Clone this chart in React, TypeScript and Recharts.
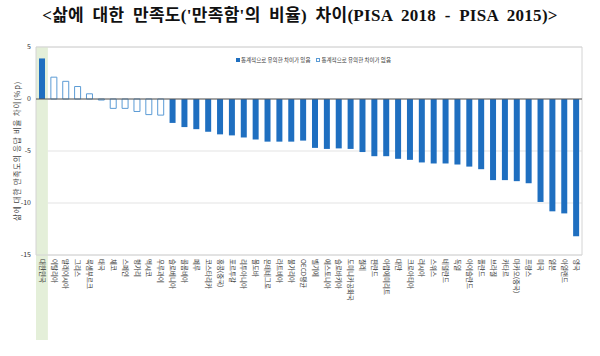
import { BarChart, Bar, Cell, XAxis, YAxis, CartesianGrid, ReferenceLine, ReferenceArea, Legend } from 'recharts';

const countries = [
  '대한민국', '이탈리아', '말레이시아', '그리스', '룩셈부르크', '태국', '체코', '스페인', '헝가리', '멕시코',
  '우루과이', '슬로베니아', '콜롬비아', '페루', '코스타리카', '홍콩(중국)', '포르투갈', '리투아니아', '몰도바', '몬테네그로',
  '라트비아', '불가리아', 'OECD평균', '벨기에', '에스토니아', '슬로바키아', '도미니카공화국', '칠레', '핀란드', '아랍에미리트',
  '대만', '크로아티아', '러시아', '스위스', '네덜란드', '독일', '아이슬란드', '폴란드', '브라질', '카타르',
  '마카오(중국)', '프랑스', '미국', '일본', '아일랜드', '영국',
];

const change = [
  3.9, 2.1, 1.7, 1.2, 0.5, -0.1, -0.9, -0.9, -1.2, -1.5,
  -1.55, -2.3, -2.7, -2.9, -3.15, -3.4, -3.5, -3.7, -3.9, -4.1,
  -4.1, -4.1, -4.0, -4.7, -4.8, -4.75, -4.8, -5.1, -5.5, -5.5,
  -5.75, -5.85, -6.1, -6.2, -6.2, -6.3, -6.5, -6.75, -7.8, -7.8,
  -7.9, -8.1, -9.9, -10.8, -11.0, -13.2,
];

// true = statistically significant difference
const significant = countries.map((_, i) => !(i >= 1 && i <= 10));

const yTicks = [5, 0, -5, -10, -15];

const legendItems = ['통계적으로 유의한 차이가 있음', '통계적으로 유의한 차이가 없음'];

const data = countries.map((name, i) => ({ name, value: change[i], sig: significant[i] }));

const BLUE = '#1f6fc0';
const LIGHT_BLUE = '#5b9bd5';
const FONT = '"Noto Sans CJK KR", "Noto Sans", sans-serif';

function CountryTick({ x, y, payload }: any) {
  return (
    <text
      x={x}
      y={y}
      dy="0.35em"
      transform={`rotate(90, ${x}, ${y})`}
      fontSize={6.5}
      fill="#333"
      fontFamily={FONT}
    >
      {payload.value}
    </text>
  );
}

function LegendContent() {
  return (
    <div style={{ display: 'flex', gap: 6, fontSize: 5.5, color: '#333', fontFamily: FONT, whiteSpace: 'nowrap' }}>
      {legendItems.map((label, i) => (
        <span key={label} style={{ display: 'flex', alignItems: 'center' }}>
          <span
            style={{
              display: 'inline-block',
              width: 4,
              height: 4,
              marginRight: 1,
              background: i === 0 ? BLUE : '#fff',
              border: i === 0 ? 'none' : `0.8px solid ${LIGHT_BLUE}`,
              boxSizing: 'border-box',
            }}
          />
          {label}
        </span>
      ))}
    </div>
  );
}

export default function App() {
  return (
    <div style={{ position: 'absolute', left: 0, top: 0, width: 600, height: 356, background: '#fff' }}>
      <div
        style={{
          position: 'absolute',
          top: 1,
          left: 0,
          width: 600,
          textAlign: 'center',
          fontFamily: '"Liberation Serif", "Noto Sans CJK KR", serif',
          fontWeight: 700,
          fontSize: 17,
          wordSpacing: 4,
          letterSpacing: 0.3,
          color: '#111',
          whiteSpace: 'nowrap',
        }}
      >
        {"<삶에 대한 만족도('만족함'의 비율) 차이(PISA 2018 - PISA 2015)>"}
      </div>
      <BarChart
        width={600}
        height={356}
        data={data}
        margin={{ top: 47, right: 18, bottom: 0, left: 6 }}
        barSize={6}
      >
        <ReferenceArea
          x1="대한민국"
          x2="대한민국"
          y1={-15}
          y2={5}
          ifOverflow="visible"
          shape={(p: any) => <rect x={p.x} y={p.y} width={p.width} height={p.height + 85} fill="#e4efd9" />}
        />
        <CartesianGrid vertical={false} stroke="#e3e3e3" />
        <ReferenceArea y1={-15} y2={5} fill="none" stroke="#d4d4d4" ifOverflow="visible" />
        <XAxis
          dataKey="name"
          interval={0}
          height={101}
          tickLine={false}
          axisLine={false}
          tickSize={0}
          tickMargin={4}
          tick={<CountryTick />}
        />
        <YAxis
          width={30}
          domain={[-15, 5]}
          ticks={yTicks}
          interval={0}
          tickLine={false}
          axisLine={false}
          tickSize={0}
          tickMargin={5}
          tick={{ fontSize: 7, fill: '#333', fontFamily: FONT }}
          label={({ viewBox }: any) => (
            <text
              x={viewBox.x + 11}
              y={viewBox.y + viewBox.height / 2}
              transform={`rotate(-90, ${viewBox.x + 11}, ${viewBox.y + viewBox.height / 2})`}
              textAnchor="middle"
              dy="0.35em"
              fontSize={7.5}
              letterSpacing={0.8}
              fill="#444"
              fontFamily={FONT}
            >
              삶에 대한 만족도의 응답 비율 차이(%p)
            </text>
          )}
        />
        <Legend
          layout="horizontal"
          verticalAlign="middle"
          align="center"
          content={<LegendContent />}
          wrapperStyle={{ position: 'absolute', top: 56, left: 236, width: 170, height: 8 }}
        />
        <Bar dataKey="value" isAnimationActive={false}>
          {data.map((d) => (
            <Cell
              key={d.name}
              fill={d.sig ? BLUE : '#ffffff'}
              stroke={d.sig ? BLUE : LIGHT_BLUE}
              strokeWidth={d.sig ? 0 : 1}
            />
          ))}
        </Bar>
        <ReferenceLine y={0} stroke="#555" strokeWidth={1} />
      </BarChart>
    </div>
  );
}
